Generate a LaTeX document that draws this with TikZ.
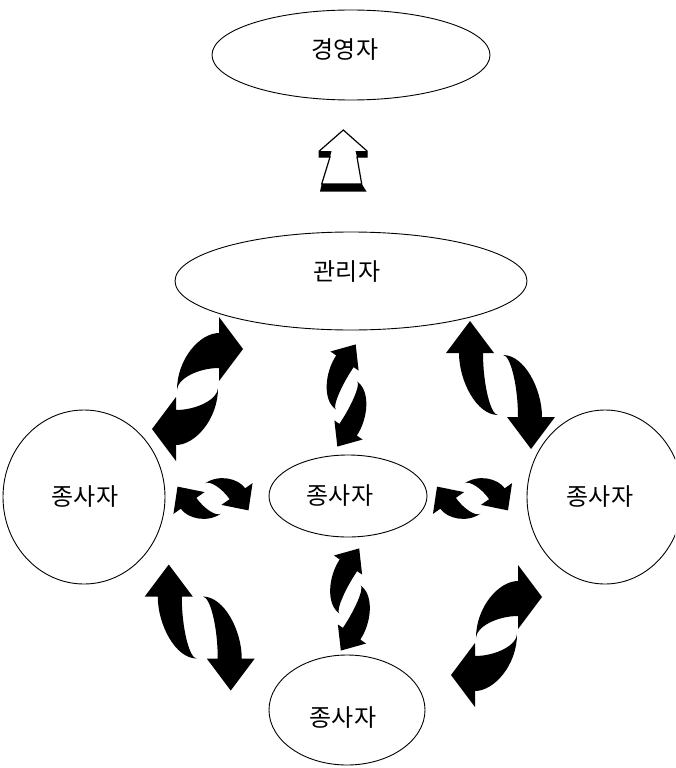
\documentclass[tikz,border=0pt]{standalone}
\usepackage{fontspec}
\newfontfamily\kr{Noto Sans CJK KR}
\usetikzlibrary{shapes.geometric}
% curved arrow: head base centre at origin, pointing +x
% #1 L (tail back), #2 D (tail side offset), #3 yt, #4 yb (body edges at head), #5 half head width, #6 head length
\newcommand\myarrow[6]{%
  \fill (-#1,#2) .. controls (-#1,{#2+0.55*(#3-(#2))}) and ({-0.45*#1},#3) .. (0,#3)
    -- (0,#5) -- (#6,0) -- (0,-#5) -- (0,#4)
    .. controls ({-0.5*#1},#4) and ({-#1},{#2+0.5*(#4-(#2))}) .. (-#1,#2) -- cycle;}
\newcommand\typeA{\myarrow{42}{-41}{16}{-19}{32}{24}}
\newcommand\typeB{\myarrow{62}{-28}{11}{-13}{24}{32}}
\newcommand\typeC{\myarrow{45}{-20}{10}{-11}{17}{20}}
\newcommand\typeD{\myarrow{27}{-20}{10}{-9}{19}{20}}
% pair of arrows, point symmetric about (#1,#2)
\newcommand\mypair[6]{%
  \begin{scope}[shift={(#1,#2)}]
    \begin{scope}[shift={(#3,#4)},rotate=#5] #6 \end{scope}
    \begin{scope}[rotate=180]
      \begin{scope}[shift={(#3,#4)},rotate=#5] #6 \end{scope}
    \end{scope}
  \end{scope}}
\begin{document}
\begin{tikzpicture}[x=1pt,y=1pt,
  ell/.style={ellipse, draw, line width=0.9pt, inner sep=0pt},
  lbl/.style={font=\kr\fontsize{24}{27}\selectfont, inner sep=0pt}]
\useasboundingbox (0,0) rectangle (675,-768);
\fill[white] (0,0) rectangle (675,-768);
\clip (0,0) rectangle (675,-768);
% shapes
\node[ell, minimum width=278pt, minimum height=90pt] (ceo) at (351,-55) {};
\node[ell, minimum width=352pt, minimum height=98pt] (mgr) at (351,-281) {};
\node[ell, minimum width=158pt, minimum height=82pt] (wc) at (348,-496) {};
\node[ell, minimum width=162pt, minimum height=174pt] (wl) at (84,-497) {};
\node[ell, minimum width=156pt, minimum height=174pt] (wr) at (605,-497) {};
\node[ell, minimum width=156pt, minimum height=110pt] (wb) at (347,-710) {};
% labels
\node[lbl] (tceo) at (345,-50) {경영자};
\node[lbl] (tmgr) at (347,-272) {관리자};
\node[lbl] (twc) at (340,-496) {종사자};
\node[lbl] (twl) at (85,-497) {종사자};
\node[lbl] (twr) at (600,-497) {종사자};
\node[lbl] (twb) at (343,-718) {종사자};
% hollow arrow
\draw[line width=1.2pt, fill=white, line join=miter]
  (343.3,-130) -- (367,-151) -- (367,-157) -- (357,-157) -- (361.7,-184)
  -- (321.7,-184) -- (330,-157) -- (319.3,-157) -- (319.3,-151) -- cycle;
\fill (319.3,-151) -- (331.5,-151) -- (330,-157) -- (319.3,-157) -- cycle;
\fill (355.5,-151) -- (367,-151) -- (367,-157) -- (357,-157) -- cycle;
\fill (321.7,-184) -- (361.7,-184) -- (366.5,-191.5) -- (320,-191.5) -- cycle;
% curved arrow pairs
\mypair{197.5}{-389}{21.5}{40}{0}{\typeA}
\mypair{496.5}{-636}{21.5}{39}{0}{\typeA}
\mypair{500.5}{-385}{-30.5}{32}{90}{\typeB}
\mypair{199.75}{-627.5}{-31}{31}{90}{\typeB}
\mypair{346.5}{-395.5}{-2}{34.5}{56}{\typeC}
\mypair{350}{-599.5}{-2}{34.5}{56}{\typeC}
\mypair{213}{-498.5}{24}{4.5}{-55}{\typeD}
\mypair{472.5}{-498.5}{24}{4.5}{-55}{\typeD}
\end{tikzpicture}
\end{document}
